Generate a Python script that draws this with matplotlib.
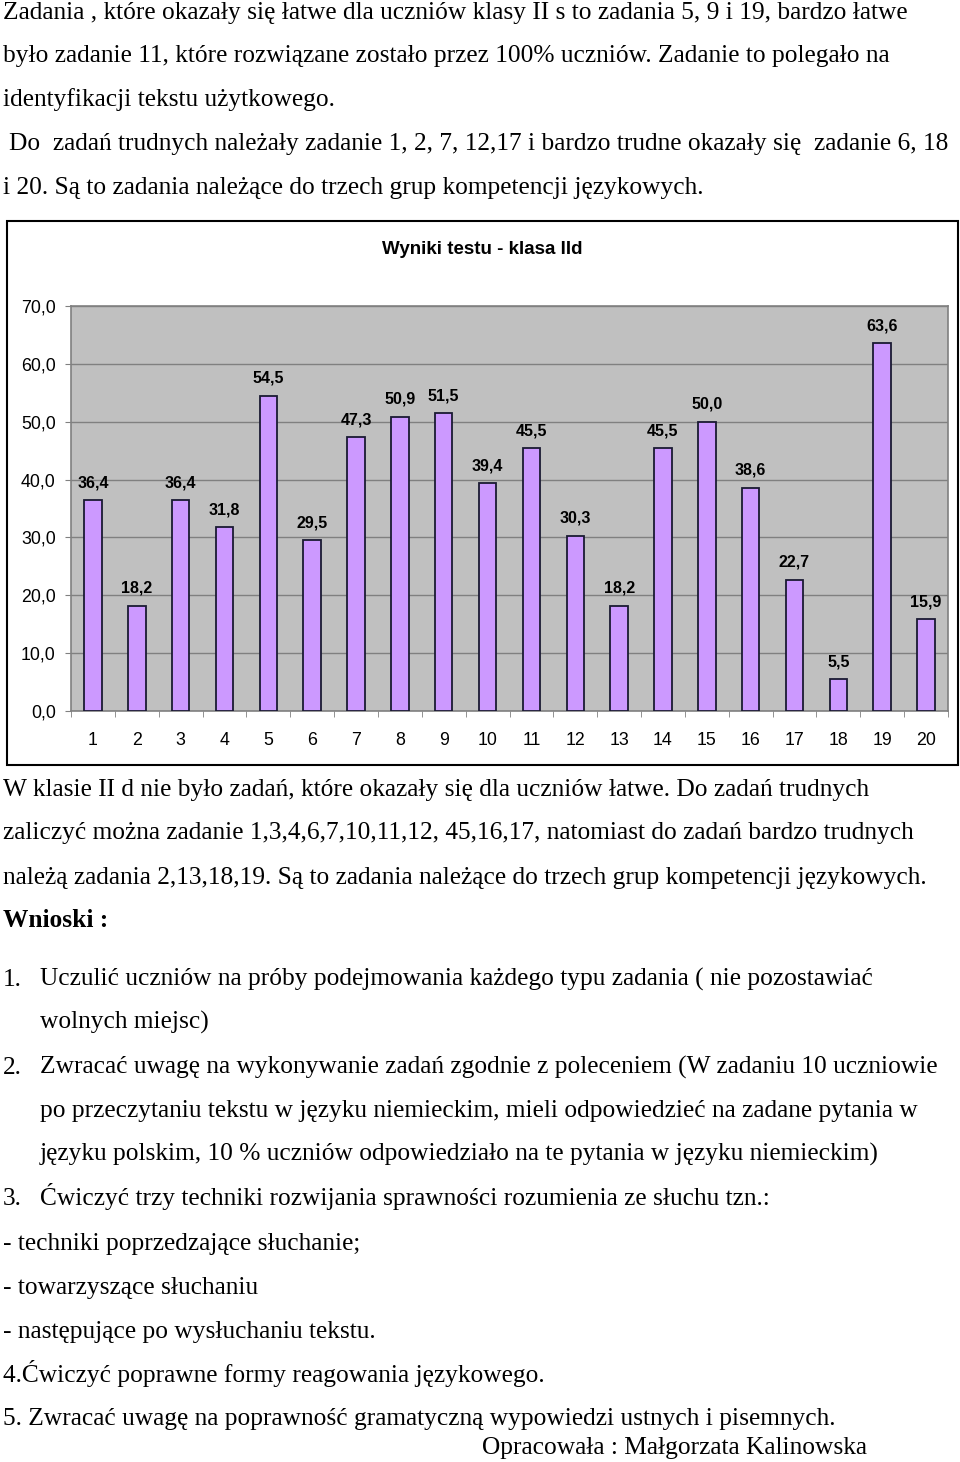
import matplotlib
matplotlib.use("Agg")
import matplotlib.pyplot as plt
from matplotlib.patches import Rectangle
import numpy as np

W, H = 960, 1462

categories = [str(i) for i in range(1, 21)]
values = [36.4, 18.2, 36.4, 31.8, 54.5, 29.5, 47.3, 50.9, 51.5, 39.4,
          45.5, 30.3, 18.2, 45.5, 50.0, 38.6, 22.7, 5.5, 63.6, 15.9]
y_ticks = [0, 10, 20, 30, 40, 50, 60, 70]
title = "Wyniki testu - klasa IId"

top_lines = [
    (3, 12, "Zadania , które okazały się łatwe dla uczniów klasy II s to zadania 5, 9 i 19, bardzo łatwe", "normal"),
    (3, 55, "było zadanie 11, które rozwiązane zostało przez 100% uczniów. Zadanie to polegało na", "normal"),
    (3, 99, "identyfikacji tekstu użytkowego.", "normal"),
    (9, 143, "Do  zadań trudnych należały zadanie 1, 2, 7, 12,17 i bardzo trudne okazały się  zadanie 6, 18", "normal"),
    (3, 187, "i 20. Są to zadania należące do trzech grup kompetencji językowych.", "normal"),
]
bottom_lines = [
    (3, 789, "W klasie II d nie było zadań, które okazały się dla uczniów łatwe. Do zadań trudnych", "normal"),
    (3, 832, "zaliczyć można zadanie 1,3,4,6,7,10,11,12, 45,16,17, natomiast do zadań bardzo trudnych", "normal"),
    (3, 877, "należą zadania 2,13,18,19. Są to zadania należące do trzech grup kompetencji językowych.", "normal"),
    (3, 920, "Wnioski :", "bold"),
    (3, 979, "1.", "normal"),
    (40, 979, "Uczulić uczniów na próby podejmowania każdego typu zadania ( nie pozostawiać", "normal"),
    (40, 1022, "wolnych miejsc)", "normal"),
    (3, 1067, "2.", "normal"),
    (40, 1067, "Zwracać uwagę na wykonywanie zadań zgodnie z poleceniem (W zadaniu 10 uczniowie", "normal"),
    (40, 1110, "po przeczytaniu tekstu w języku niemieckim, mieli odpowiedzieć na zadane pytania w", "normal"),
    (40, 1154, "języku polskim, 10 % uczniów odpowiedziało na te pytania w języku niemieckim)", "normal"),
    (3, 1198, "3.", "normal"),
    (40, 1198, "Ćwiczyć trzy techniki rozwijania sprawności rozumienia ze słuchu tzn.:", "normal"),
    (3, 1243, "- techniki poprzedzające słuchanie;", "normal"),
    (3, 1287, "- towarzyszące słuchaniu", "normal"),
    (3, 1331, "- następujące po wysłuchaniu tekstu.", "normal"),
    (3, 1375, "4.Ćwiczyć poprawne formy reagowania językowego.", "normal"),
    (3, 1418, "5. Zwracać uwagę na poprawność gramatyczną wypowiedzi ustnych i pisemnych.", "normal"),
    (482, 1447, "Opracowała : Małgorzata Kalinowska", "normal"),
]

fig = plt.figure(figsize=(W / 100, H / 100), dpi=100)
fig.patch.set_facecolor("white")

def fx(x):
    return x / W

def fy(y):
    return 1 - y / H

serif = ["Liberation Serif", "DejaVu Serif"]
sans = ["Liberation Sans", "DejaVu Sans"]

for x, y, s, wgt in top_lines + bottom_lines:
    fig.text(fx(x), fy(y + 7), s, ha="left", va="baseline", fontsize=18.3,
             family=serif, fontweight=wgt, color="black")

# chart frame
frame = Rectangle((fx(7), fy(765)), fx(958) - fx(7), fy(221) - fy(765),
                  transform=fig.transFigure, fill=False, edgecolor="black",
                  linewidth=1.5, zorder=0)
fig.add_artist(frame)
fig.text(fx(482.5), fy(250), title, ha="center", va="center", fontsize=13.5,
         fontweight="bold", family=sans)

left, right, top, bottom = 71, 948, 306, 711
ax = fig.add_axes([fx(left), fy(bottom), fx(right) - fx(left), fy(top) - fy(bottom)])
ax.set_facecolor("#C0C0C0")

x = np.arange(1, len(values) + 1)
bars = ax.bar(x, values, width=0.4, color="#CC99FF", edgecolor="#1a1a33",
              linewidth=1.3, zorder=3)
for xi, v in zip(x, values):
    ax.annotate(f"{v:.1f}".replace(".", ","), (xi, v), xytext=(0, 7),
                textcoords="offset points", ha="center", va="bottom",
                fontsize=11.5, fontweight="bold", family=sans)

ax.set_xlim(0.5, len(values) + 0.5)
ax.set_ylim(0, 70)
ax.set_yticks(y_ticks)
ax.set_yticklabels([f"{t:.1f}".replace(".", ",") for t in y_ticks],
                   fontsize=12.8, family=sans)
ax.set_xticks(x)
ax.set_xticklabels(categories, fontsize=12.8, family=sans)
ax.set_xticks(np.arange(0.5, len(values) + 1, 1.0), minor=True)
ax.tick_params(axis="x", which="major", length=0, pad=15)
ax.tick_params(axis="x", which="minor", length=4.5, color="#808080", direction="out")
ax.tick_params(axis="y", which="major", length=4, color="#808080", pad=7)
ax.grid(axis="y", color="#808080", linewidth=1, zorder=1)
ax.set_axisbelow(True)
for sp in ax.spines.values():
    sp.set_color("#808080")
    sp.set_linewidth(1.2)

fig.savefig("out.png", dpi=100)
